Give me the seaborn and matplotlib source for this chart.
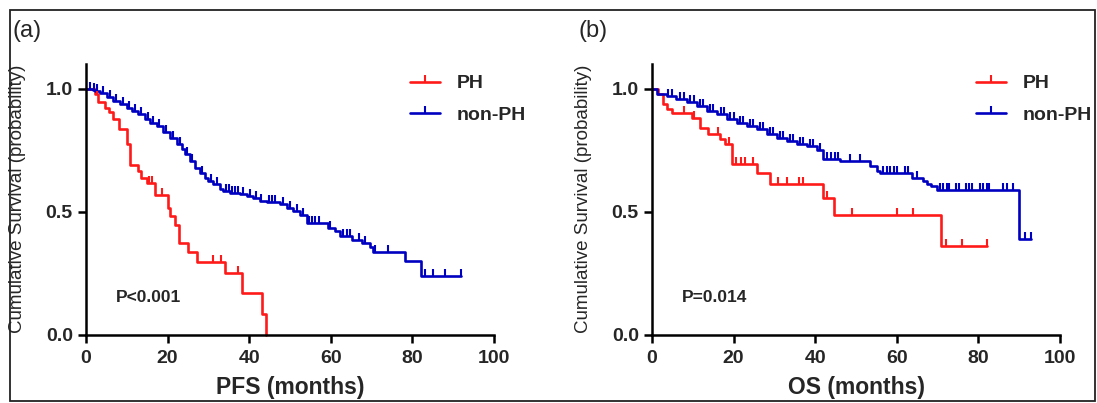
import numpy as np
import pandas as pd
import matplotlib
matplotlib.use("Agg")
import matplotlib.pyplot as plt
from matplotlib.lines import Line2D
from matplotlib.patches import Rectangle
import seaborn as sns

# PFS (panel a) - Kaplan-Meier steps
pfs_ph_t = [0, 2.2, 3.0, 4.7, 5.7, 6.7, 8.2, 10.0, 10.8, 12.8, 13.6, 14.9, 17.0,
            20.0, 20.6, 21.8, 22.8, 25.1, 27.1, 34.1, 38.3, 43.2, 44.0]
pfs_ph_s = [1.0, 0.98, 0.944, 0.923, 0.903, 0.876, 0.835, 0.773, 0.688, 0.665, 0.638, 0.617, 0.569,
            0.515, 0.481, 0.447, 0.372, 0.334, 0.296, 0.252, 0.168, 0.082, 0.0]
pfs_ph_cens = [2.6, 15.5, 16.1, 18.6, 31.1, 33.1, 37.2]

pfs_non_t = [0, 1.6, 2.2, 3.4, 5.1, 6.7, 8.3, 10.0, 11.2, 12.8, 14.5, 15.7, 17.3, 18.9, 20.6,
             22.2, 23.5, 24.3, 25.5, 26.7, 27.9, 29.2, 30.0, 31.2, 32.8, 33.7, 35.3, 37.7, 39.4,
             41.0, 42.6, 44.3, 47.5, 49.2, 50.8, 52.5, 54.1, 59.4, 61.0, 62.3, 65.1, 67.6, 69.6,
             70.3, 78.2, 82.0, 92.0]
pfs_non_s = [1.0, 0.995, 0.991, 0.984, 0.964, 0.950, 0.937, 0.923, 0.909, 0.896, 0.878, 0.862,
             0.848, 0.824, 0.801, 0.773, 0.753, 0.733, 0.705, 0.678, 0.658, 0.637, 0.624, 0.610,
             0.593, 0.583, 0.576, 0.573, 0.562, 0.556, 0.542, 0.538, 0.529, 0.515, 0.501, 0.484,
             0.454, 0.433, 0.420, 0.402, 0.386, 0.372, 0.356, 0.334, 0.297, 0.239, 0.239]
pfs_non_cens = [1.0, 1.9, 2.8, 4.2, 5.8, 7.4, 9.0, 10.6, 12.0, 13.6, 15.1, 16.5, 18.0, 19.7,
                21.4, 23.0, 24.8, 26.1, 28.5, 30.6, 32.0, 34.2, 35.0, 35.8, 36.6, 37.2, 38.4,
                40.2, 41.6, 43.0, 44.8, 45.6, 46.4, 48.3, 50.0, 51.6, 53.3, 54.6, 55.4, 56.2,
                57.0, 59.8, 63.1, 63.9, 64.6, 66.8, 68.4, 70.8, 74.1, 83.0, 85.1, 87.9, 92.0]

# OS (panel b)
os_ph_t = [0, 1.5, 2.8, 3.6, 4.8, 9.7, 11.8, 13.8, 16.7, 17.9, 19.7, 25.8, 28.8, 41.8, 44.7,
           70.8, 82.0]
os_ph_s = [1.0, 0.978, 0.937, 0.919, 0.899, 0.882, 0.838, 0.817, 0.794, 0.773, 0.695, 0.658,
           0.614, 0.556, 0.484, 0.361, 0.361]
os_ph_cens = [7.9, 10.2, 16.2, 18.8, 20.7, 21.8, 22.9, 24.7, 31.0, 33.0, 36.0, 36.9, 42.8,
              49.0, 60.0, 64.0, 72.0, 75.9, 82.0]

os_non_t = [0, 1.2, 3.6, 6.0, 8.5, 11.0, 13.4, 15.9, 18.3, 20.8, 23.2, 25.7, 28.1, 30.6, 33.0,
            35.5, 37.9, 40.4, 42.0, 46.1, 53.4, 55.1, 55.9, 63.8, 66.3, 67.3, 68.3, 69.8, 90.0,
            92.9]
os_non_s = [1.0, 0.978, 0.971, 0.957, 0.944, 0.930, 0.909, 0.896, 0.876, 0.862, 0.848, 0.835,
            0.817, 0.801, 0.787, 0.776, 0.767, 0.750, 0.712, 0.705, 0.685, 0.664, 0.655, 0.637,
            0.624, 0.614, 0.603, 0.586, 0.389, 0.389]
os_non_cens = [3.9, 5.0, 6.8, 7.8, 9.3, 10.2, 11.8, 12.6, 14.2, 15.0, 16.8, 17.6, 19.2, 20.0,
               21.6, 22.4, 24.0, 24.8, 26.5, 27.3, 28.9, 29.7, 31.4, 32.2, 33.8, 34.6, 36.3,
               37.1, 38.7, 39.5, 41.1, 43.0, 43.9, 44.8, 45.6, 48.6, 51.0, 56.7, 57.5, 58.3,
               59.2, 60.0, 62.0, 62.8, 65.0, 70.6, 71.4, 72.2, 72.9, 74.5, 75.3, 77.0, 77.7,
               78.4, 80.4, 81.2, 82.0, 82.7, 86.0, 87.0, 88.5, 91.3, 92.9]

panels = [
    ("(a)", "PFS (months)", "P<0.001",
     [("PH", pfs_ph_t, pfs_ph_s, pfs_ph_cens), ("non-PH", pfs_non_t, pfs_non_s, pfs_non_cens)]),
    ("(b)", "OS (months)", "P=0.014",
     [("PH", os_ph_t, os_ph_s, os_ph_cens), ("non-PH", os_non_t, os_non_s, os_non_cens)]),
]
colors = {"PH": "#ff1a1a", "non-PH": "#0000c0"}

sns.set_style("ticks")
plt.rcParams["font.family"] = ["Liberation Sans", "DejaVu Sans"]

W, H = 1097, 403
fig = plt.figure(figsize=(W / 100, H / 100), dpi=100)
fig.patches.append(Rectangle((10 / W, 2 / H), 1085 / W, 391 / H, transform=fig.transFigure,
                             fill=False, edgecolor="#222222", linewidth=1.3))

lw = 1.9
lefts = [86, 652]
for (tag, xlab, ptxt, groups), lpx in zip(panels, lefts):
    ax = fig.add_axes([lpx / W, (H - 334.5) / H, 408 / W, 270.5 / H])
    rows = []
    for name, t, s, c in groups:
        rows += [{"time": ti, "surv": si, "group": name} for ti, si in zip(t, s)]
    df = pd.DataFrame(rows)
    sns.lineplot(data=df, x="time", y="surv", hue="group", palette=colors, estimator=None,
                 drawstyle="steps-post", linewidth=lw, legend=False, ax=ax, clip_on=False)
    for name, t, s, c in groups:
        idx = np.searchsorted(t, c, side="right") - 1
        cy = np.array(s)[idx]
        ax.plot(c, cy, linestyle="none", marker=2, markersize=5, markeredgewidth=1.5,
                color=colors[name], clip_on=False)

    ax.set_xlim(0, 100)
    ax.set_ylim(0, 1.1)
    ax.set_xticks([0, 20, 40, 60, 80, 100])
    ax.set_yticks([0.0, 0.5, 1.0])
    ax.set_yticklabels(["0.0", "0.5", "1.0"])
    for sp in ["top", "right"]:
        ax.spines[sp].set_visible(False)
    for sp in ["left", "bottom"]:
        ax.spines[sp].set_linewidth(1.8)
        ax.spines[sp].set_color("black")
    ax.tick_params(axis="both", length=5.5, width=1.8, color="black", labelsize=14)
    ax.tick_params(axis="x", pad=6)
    ax.tick_params(axis="y", pad=4)
    for lab in ax.get_xticklabels() + ax.get_yticklabels():
        lab.set_fontweight("bold")
    ax.set_xlabel(xlab, fontsize=16.5, fontweight="bold", labelpad=6)
    ax.set_ylabel("Cumulative Survival (probability)", fontsize=13.5)
    ax.yaxis.set_label_coords(-0.147, 0.5)
    ax.text(7.2, 0.15, ptxt, fontsize=12.5, fontweight="bold", va="center")

    handles = [Line2D([], [], color=colors[n], linewidth=lw, marker=2, markersize=5,
                      markeredgewidth=1.5) for n, *_ in groups]
    ax.legend(handles, [g[0] for g in groups], loc="upper left", bbox_to_anchor=(0.795, 0.96),
              frameon=False, borderpad=0, borderaxespad=0, handlelength=1.5,
              handletextpad=0.88, labelspacing=0.73, prop={"weight": "bold", "size": 14})

    fig.text((lpx - 73) / W, 1 - 31 / H, tag, fontsize=17, va="center", ha="left")

fig.savefig("out.png", dpi=100)
